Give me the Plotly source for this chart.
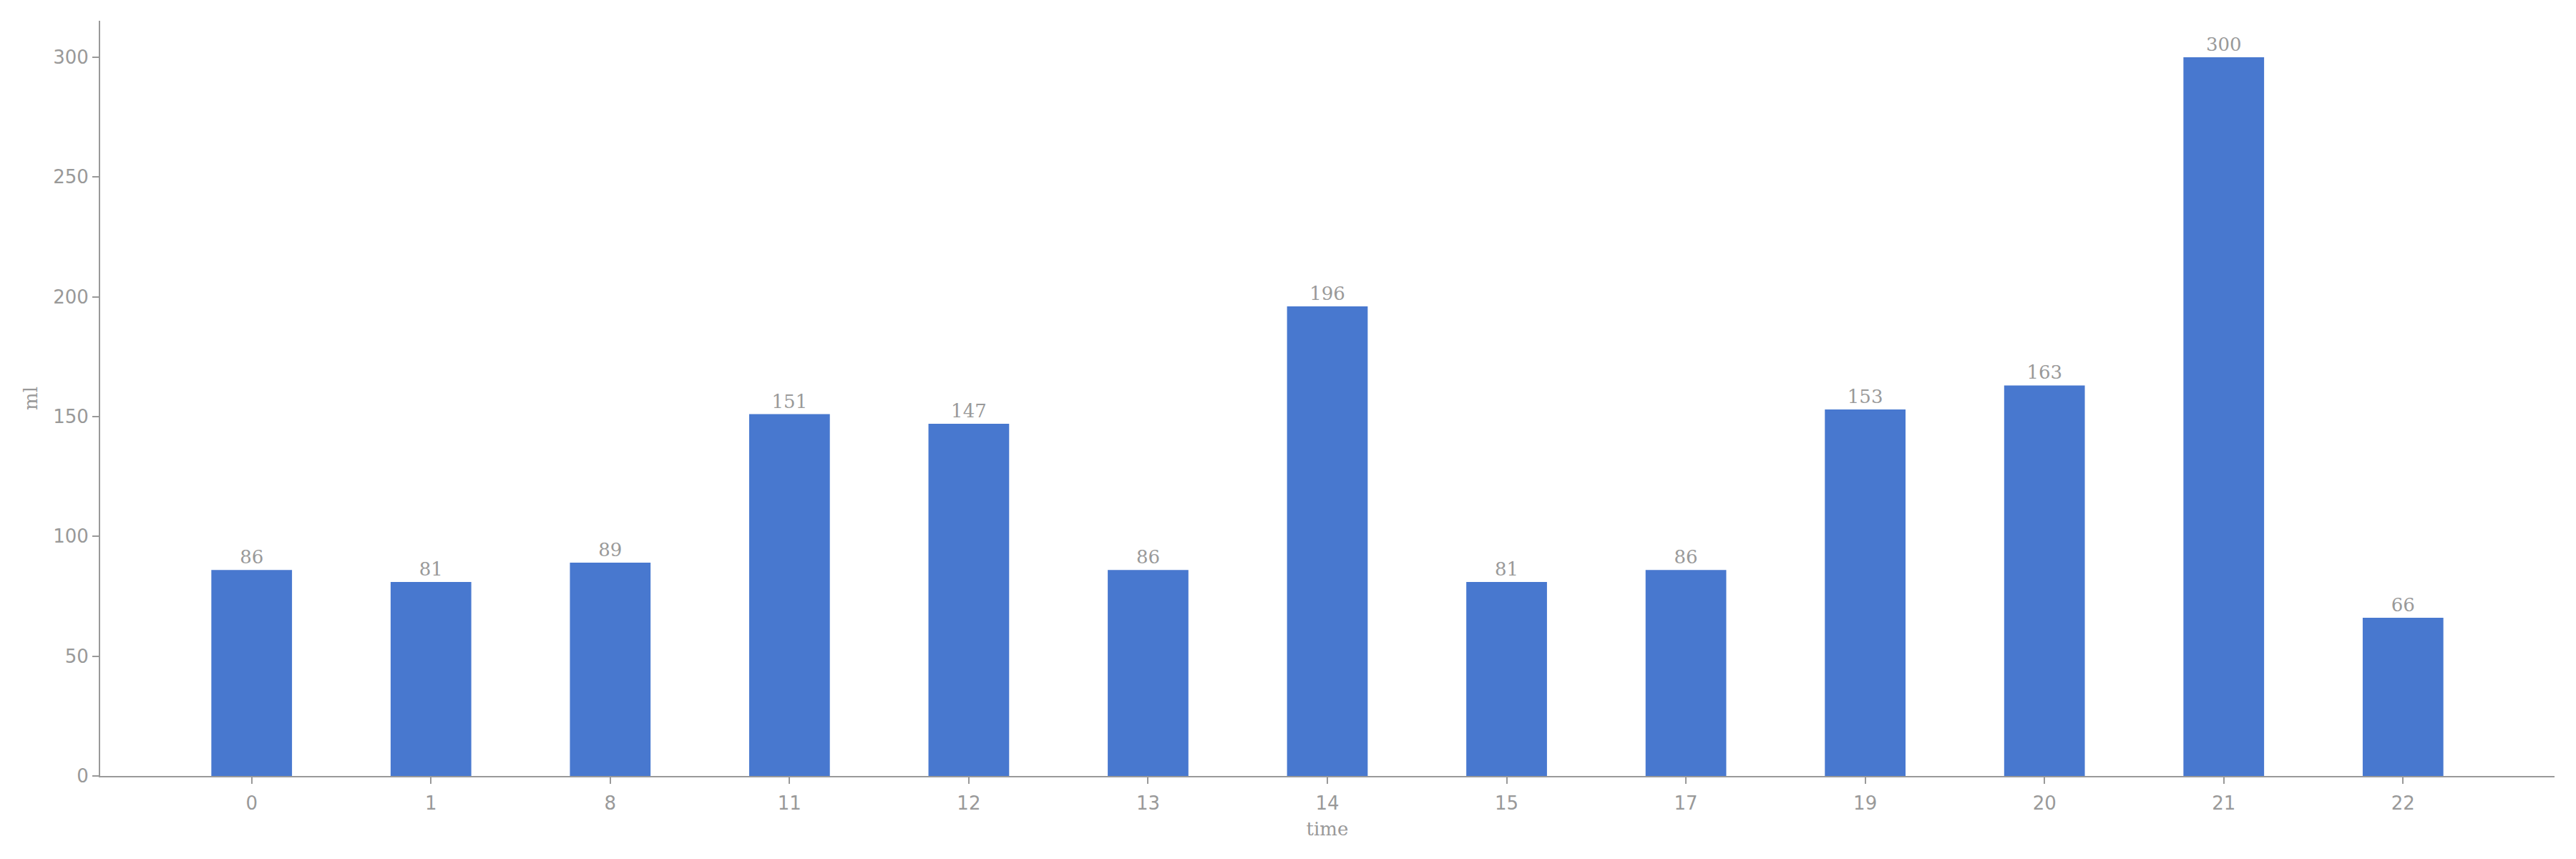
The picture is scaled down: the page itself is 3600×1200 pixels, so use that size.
import plotly.graph_objects as go

times = ["0", "1", "8", "11", "12", "13", "14", "15", "17", "19", "20", "21", "22"]
ml_values = [86, 81, 89, 151, 147, 86, 196, 81, 86, 153, 163, 300, 66]

GRAY = "#999999"
BAR = "#4878CF"

fig = go.Figure(
    go.Bar(
        x=times,
        y=ml_values,
        marker=dict(color=BAR, line=dict(width=0)),
        width=0.45,
        text=[str(v) for v in ml_values],
        textposition="outside",
        textfont=dict(family="DejaVu Serif", size=26, color=GRAY),
        cliponaxis=False,
    )
)

fig.update_layout(
    width=3600,
    height=1200,
    paper_bgcolor="white",
    plot_bgcolor="white",
    margin=dict(l=140, r=30, t=29, b=116),
    showlegend=False,
    xaxis=dict(
        type="category",
        range=[-0.845, 12.845],
        showline=True,
        linecolor=GRAY,
        linewidth=2,
        ticks="outside",
        ticklen=9,
        tickwidth=2,
        tickcolor=GRAY,
        ticklabelstandoff=5,
        tickfont=dict(family="DejaVu Sans", size=26, color=GRAY),
        showgrid=False,
        zeroline=False,
        title=dict(text="time", font=dict(family="DejaVu Serif", size=26, color=GRAY), standoff=13),
        automargin=False,
    ),
    yaxis=dict(
        range=[0, 315.2],
        showline=True,
        linecolor=GRAY,
        linewidth=2,
        ticks="outside",
        ticklen=9,
        tickwidth=2,
        tickcolor=GRAY,
        tickvals=[0, 50, 100, 150, 200, 250, 300],
        tickfont=dict(family="DejaVu Sans", size=26, color=GRAY),
        showgrid=False,
        zeroline=False,
        title=dict(text="ml", font=dict(family="DejaVu Serif", size=26, color=GRAY), standoff=14),
        automargin=False,
    ),
)

fig.write_html("out.html")
